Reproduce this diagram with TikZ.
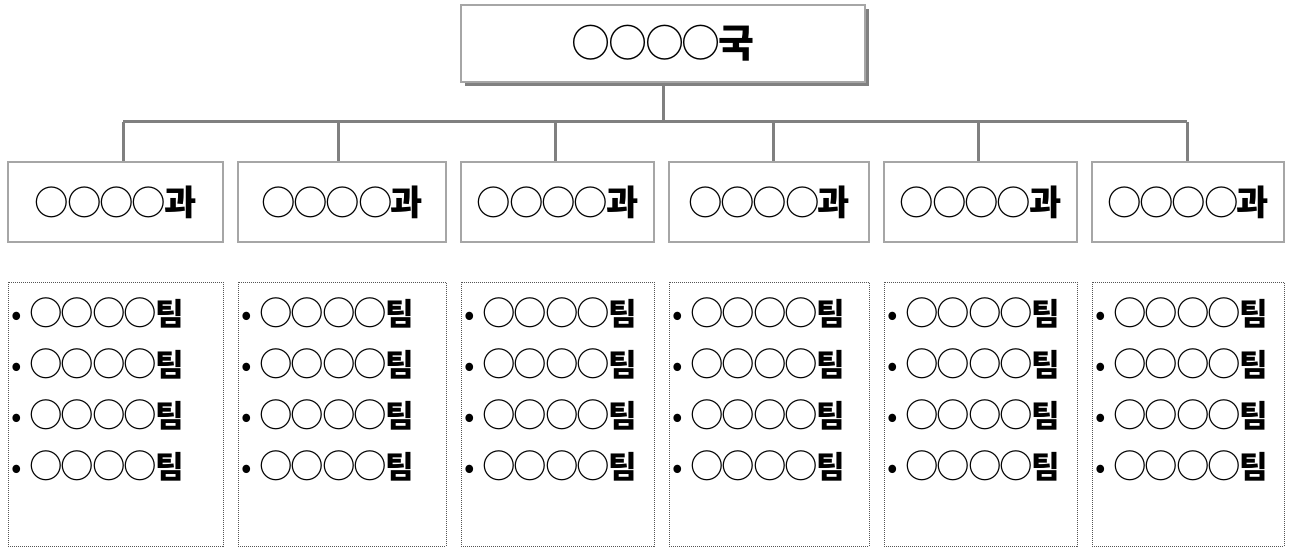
\documentclass[tikz,border=0pt]{standalone}
\usepackage{fontspec}
\newfontfamily\kr{Noto Sans CJK KR}
\newfontfamily\krc[LetterSpace=-6]{Noto Sans CJK KR}
\newcommand\cirs[1]{{\krc\fontsize{#1}{#1}\selectfont ○○○○}}
\usetikzlibrary{shadows}
\definecolor{lineg}{HTML}{808080}
\definecolor{boxg}{HTML}{A6A6A6}
\definecolor{dotg}{HTML}{555555}
\begin{document}
\begin{tikzpicture}[x=1pt,y=-1pt,
  conn/.style={draw=lineg, line width=3pt},
  topbox/.style={draw=boxg, line width=1.5pt, fill=white, minimum width=404pt, minimum height=77pt, inner sep=0pt,
    font=\kr\fontsize{39}{42}\selectfont,
    drop shadow={shadow xshift=4pt, shadow yshift=-4pt, fill=lineg, opacity=1}},
  deptbox/.style={draw=boxg, line width=1.3pt, fill=white, minimum height=80pt, inner sep=0pt,
    font=\kr\fontsize{35}{38}\selectfont},
  teambox/.style={draw=dotg, line width=0.9pt, dash pattern=on 1pt off 1pt, minimum height=264pt, inner sep=0pt},
  teamtext/.style={anchor=west, inner sep=0pt, font=\kr\fontsize{31}{34}\selectfont}]
\useasboundingbox (0,0) rectangle (1289,548);
\fill[white] (0,0) rectangle (1289,548);

\node[topbox] (top) at (663,43.5) {\cirs{39}\textbf{국}};

\foreach \i/\cx/\w/\sx in {1/115.5/215/123, 2/342/208/338, 3/557.5/193/555, 4/769/200/773, 5/980.5/193/978, 6/1188/192/1187}{
  \node[deptbox, minimum width=\w pt] (d\i) at (\cx,202) {\cirs{34.5}\textbf{과}};
  \node[teambox, minimum width=\w pt] (t\i) at (\cx,414) {};
  \coordinate (s\i) at (\sx,122);
  \draw[conn] (s\i) -- (s\i |- d\i.north);
  \foreach \r [count=\k from 0] in {a,b,c,d}{
    \node[teamtext] (t\i\r) at ([xshift=4pt]t\i.west |- 0,{313+51*\k}) {• \cirs{33.5}\textbf{팀}};
  }
}
\draw[conn] (s1) -- (s6);
\draw[conn] (top.south) -- (top.south |- s1);
\end{tikzpicture}
\end{document}
